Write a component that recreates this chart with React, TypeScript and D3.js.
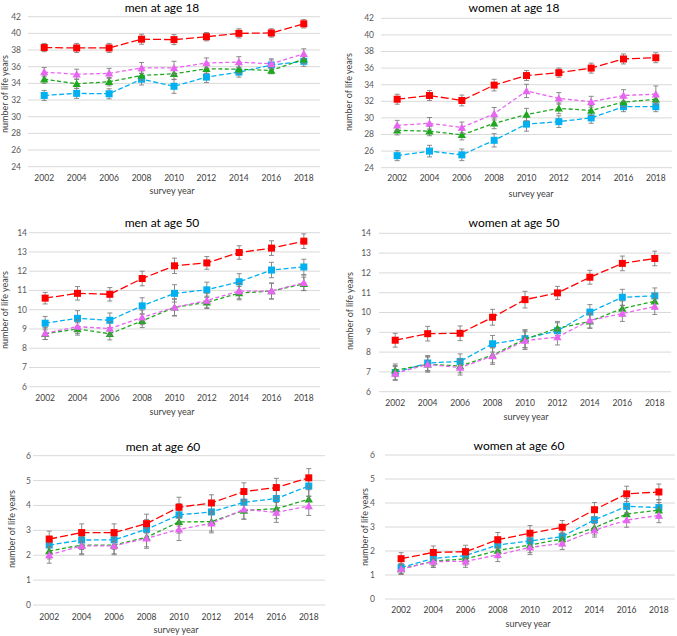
import React from "react";
import * as d3 from "d3";

const years = ["2002", "2004", "2006", "2008", "2010", "2012", "2014", "2016", "2018"];
const panelTitles = ["men at age 18", "women at age 18", "men at age 50", "women at age 50", "men at age 60", "women at age 60"];
const ticks18 = [24, 26, 28, 30, 32, 34, 36, 38, 40, 42];
const ticks50 = [6, 7, 8, 9, 10, 11, 12, 13, 14];
const ticks60 = [0, 1, 2, 3, 4, 5, 6];

// series order: red, cyan, green, magenta
const men18Red = [38.3, 38.25, 38.25, 39.3, 39.25, 39.6, 40.0, 40.05, 41.15];
const men18Cyan = [32.55, 32.8, 32.75, 34.5, 33.65, 34.75, 35.35, 36.2, 36.65];
const men18Green = [34.5, 33.95, 34.2, 34.95, 35.15, 35.75, 35.7, 35.55, 36.9];
const men18Magenta = [35.35, 35.1, 35.2, 35.85, 35.85, 36.45, 36.55, 36.35, 37.55];
const men18Err = [
  [0.5, 0.55, 0.55, 0.6, 0.6, 0.5, 0.55, 0.5, 0.5],
  [0.6, 0.6, 0.6, 0.7, 0.85, 0.65, 0.6, 0.6, 0.6],
  [0.5, 0.55, 0.5, 0.55, 0.7, 0.55, 0.55, 0.4, 0.5],
  [0.55, 0.6, 0.6, 0.65, 0.8, 0.6, 0.65, 0.6, 0.6],
];

const women18Red = [32.25, 32.7, 32.1, 33.95, 35.1, 35.45, 36.0, 37.1, 37.25];
const women18Cyan = [25.45, 26.0, 25.55, 27.3, 29.25, 29.55, 30.0, 31.35, 31.35];
const women18Green = [28.5, 28.4, 27.95, 29.35, 30.4, 31.15, 30.9, 31.9, 32.25];
const women18Magenta = [29.1, 29.35, 28.85, 30.5, 33.25, 32.35, 31.95, 32.7, 32.85];
const women18Err = [
  [0.6, 0.6, 0.65, 0.7, 0.6, 0.55, 0.6, 0.6, 0.6],
  [0.6, 0.7, 0.7, 0.8, 0.85, 0.7, 0.65, 0.6, 0.6],
  [0.55, 0.55, 0.6, 0.65, 0.75, 0.65, 0.6, 0.55, 0.6],
  [0.6, 0.7, 0.65, 0.75, 0.8, 0.7, 0.65, 0.7, 1.0],
];

const men50Red = [10.6, 10.85, 10.8, 11.62, 12.28, 12.43, 12.97, 13.2, 13.56];
const men50Cyan = [9.3, 9.55, 9.45, 10.2, 10.85, 11.03, 11.45, 12.06, 12.22];
const men50Green = [8.75, 9.0, 8.75, 9.42, 10.12, 10.38, 10.86, 10.97, 11.34];
const men50Magenta = [8.77, 9.12, 9.02, 9.6, 10.12, 10.48, 10.97, 10.97, 11.4];
const men50Err = [
  [0.3, 0.35, 0.35, 0.38, 0.4, 0.33, 0.35, 0.38, 0.38],
  [0.35, 0.4, 0.38, 0.42, 0.45, 0.4, 0.42, 0.4, 0.4],
  [0.3, 0.32, 0.32, 0.35, 0.45, 0.32, 0.35, 0.4, 0.35],
  [0.32, 0.35, 0.35, 0.38, 0.42, 0.38, 0.4, 0.42, 0.4],
];

const women50Red = [8.6, 8.93, 8.95, 9.76, 10.65, 10.99, 11.78, 12.48, 12.73];
const women50Cyan = [6.97, 7.45, 7.53, 8.42, 8.68, 9.08, 10.02, 10.77, 10.84];
const women50Green = [7.08, 7.38, 7.3, 7.84, 8.66, 9.2, 9.55, 10.2, 10.57];
const women50Magenta = [6.92, 7.38, 7.22, 7.8, 8.58, 8.76, 9.6, 9.95, 10.3];
const women50Err = [
  [0.35, 0.37, 0.37, 0.4, 0.42, 0.33, 0.35, 0.37, 0.37],
  [0.35, 0.38, 0.38, 0.42, 0.45, 0.4, 0.38, 0.4, 0.4],
  [0.32, 0.38, 0.35, 0.38, 0.45, 0.35, 0.35, 0.38, 0.38],
  [0.35, 0.38, 0.38, 0.42, 0.45, 0.4, 0.38, 0.4, 0.4],
];

const men60Red = [2.65, 2.91, 2.91, 3.27, 3.93, 4.1, 4.56, 4.72, 5.11];
const men60Cyan = [2.41, 2.61, 2.62, 3.04, 3.62, 3.74, 4.13, 4.28, 4.78];
const men60Green = [2.17, 2.41, 2.41, 2.72, 3.34, 3.35, 3.8, 3.87, 4.25];
const men60Magenta = [2.01, 2.38, 2.38, 2.68, 3.04, 3.28, 3.85, 3.72, 3.98];
const men60Err = [
  [0.32, 0.35, 0.35, 0.38, 0.4, 0.33, 0.35, 0.37, 0.37],
  [0.35, 0.38, 0.38, 0.4, 0.45, 0.4, 0.4, 0.4, 0.4],
  [0.32, 0.35, 0.35, 0.38, 0.45, 0.38, 0.35, 0.4, 0.38],
  [0.33, 0.36, 0.36, 0.4, 0.45, 0.38, 0.4, 0.4, 0.38],
];

const women60Red = [1.68, 1.94, 1.97, 2.47, 2.74, 2.99, 3.72, 4.38, 4.46];
const women60Cyan = [1.31, 1.69, 1.81, 2.25, 2.42, 2.6, 3.3, 3.86, 3.81];
const women60Green = [1.25, 1.58, 1.67, 2.02, 2.25, 2.5, 2.97, 3.54, 3.7];
const women60Magenta = [1.25, 1.56, 1.57, 1.84, 2.15, 2.32, 2.86, 3.29, 3.48];
const women60Err = [
  [0.25, 0.27, 0.27, 0.3, 0.32, 0.28, 0.3, 0.32, 0.33],
  [0.25, 0.3, 0.3, 0.32, 0.35, 0.3, 0.32, 0.33, 0.33],
  [0.22, 0.25, 0.25, 0.3, 0.32, 0.28, 0.3, 0.32, 0.32],
  [0.22, 0.25, 0.25, 0.28, 0.3, 0.26, 0.28, 0.3, 0.3],
];

const panelData = [
  [men18Red, men18Cyan, men18Green, men18Magenta],
  [women18Red, women18Cyan, women18Green, women18Magenta],
  [men50Red, men50Cyan, men50Green, men50Magenta],
  [women50Red, women50Cyan, women50Green, women50Magenta],
  [men60Red, men60Cyan, men60Green, men60Magenta],
  [women60Red, women60Cyan, women60Green, women60Magenta],
];
const panelErr = [men18Err, women18Err, men50Err, women50Err, men60Err, women60Err];
const panelTicks = [ticks18, ticks18, ticks50, ticks50, ticks60, ticks60];

const seriesStyle = [
  { color: "#FF0000", dash: "8,3", marker: "square", size: 7 },
  { color: "#00B0F0", dash: "5,2.5", marker: "square", size: 7 },
  { color: "#1FA81F", dash: "4,2.5", marker: "triangle", size: 7.5 },
  { color: "#E765F0", dash: "4,2.5", marker: "triangle", size: 7.5 },
];
const drawOrder = [1, 2, 3, 0];

// layout (pixels)
const layouts = [
  { left: 28, right: 320, yTop: 16.7, yBot: 166.7, tickRight: 21, xLabY: 178, xTitle: [172, 191], yTitle: [5, 94], title: [162, 8] },
  { left: 381, right: 672, yTop: 18.3, yBot: 167.7, tickRight: 374, xLabY: 178, xTitle: [531, 194], yTitle: [349, 92], title: [514, 8] },
  { left: 29, right: 320, yTop: 232.7, yBot: 386.7, tickRight: 27, xLabY: 398, xTitle: [172, 412], yTitle: [5, 310], title: [162, 223] },
  { left: 379, right: 671, yTop: 233.3, yBot: 391.7, tickRight: 371, xLabY: 403, xTitle: [526, 417], yTitle: [350, 311], title: [514, 223] },
  { left: 33, right: 325, yTop: 455.7, yBot: 605, tickRight: 31, xLabY: 617, xTitle: [176, 630], yTitle: [12, 529], title: [163, 447] },
  { left: 385, right: 675, yTop: 455, yBot: 599, tickRight: 375, xLabY: 610, xTitle: [528, 624], yTitle: [365, 527], title: [519, 446] },
];

const FONT = "Lato, 'Open Sans', sans-serif";

function Panel({ idx }: { idx: number }) {
  const L = layouts[idx];
  const ticks = panelTicks[idx];
  const x = d3.scalePoint<string>().domain(years).range([L.left, L.right]).padding(0.5);
  const y = d3.scaleLinear().domain([ticks[0], ticks[ticks.length - 1]]).range([L.yBot, L.yTop]);
  const data = panelData[idx];
  const errs = panelErr[idx];
  const line = d3
    .line<number>()
    .x((_, i) => x(years[i]) as number)
    .y((d) => y(d));
  const tri = d3.symbol().type(d3.symbolTriangle).size(30);

  return (
    <g>
      {ticks.map((t) => (
        <g key={t}>
          <line x1={L.left} x2={L.right} y1={y(t)} y2={y(t)} stroke="#D9D9D9" strokeWidth={1} />
          <text x={L.tickRight} y={y(t)} dy="0.35em" textAnchor="end" fontSize={8.5} fill="#595959">
            {t}
          </text>
        </g>
      ))}
      {years.map((yr) => (
        <text key={yr} x={x(yr)} y={L.xLabY} dy="0.35em" textAnchor="middle" fontSize={8.5} fill="#404040">
          {yr}
        </text>
      ))}
      <text x={L.xTitle[0]} y={L.xTitle[1]} dy="0.35em" textAnchor="middle" fontSize={9} fill="#404040">
        survey year
      </text>
      <text
        transform={`translate(${L.yTitle[0]},${L.yTitle[1]}) rotate(-90)`}
        dy="0.35em"
        textAnchor="middle"
        fontSize={9}
        fill="#404040"
      >
        number of life years
      </text>
      <text x={L.title[0]} y={L.title[1]} dy="0.35em" textAnchor="middle" fontSize={12} fill="#000">
        {panelTitles[idx]}
      </text>
      {drawOrder.map((s) => {
        const st = seriesStyle[s];
        const vals = data[s];
        return (
          <g key={s}>
            <path d={line(vals) || ""} fill="none" stroke={st.color} strokeWidth={1.3} strokeDasharray={st.dash} />
            {vals.map((v, i) => {
              const cx = x(years[i]) as number;
              const e = errs[s][i];
              return (
                <g key={i} stroke="#7F7F7F" strokeWidth={0.9}>
                  <line x1={cx} x2={cx} y1={y(v + e)} y2={y(v - e)} />
                  <line x1={cx - 2.5} x2={cx + 2.5} y1={y(v + e)} y2={y(v + e)} />
                  <line x1={cx - 2.5} x2={cx + 2.5} y1={y(v - e)} y2={y(v - e)} />
                </g>
              );
            })}
            {vals.map((v, i) => {
              const cx = x(years[i]) as number;
              const cy = y(v);
              if (st.marker === "square") {
                return (
                  <rect key={i} x={cx - st.size / 2} y={cy - st.size / 2} width={st.size} height={st.size} fill={st.color} />
                );
              }
              return <path key={i} d={tri() || ""} transform={`translate(${cx},${cy + 0.8})`} fill={st.color} />;
            })}
          </g>
        );
      })}
    </g>
  );
}

export default function App() {
  return (
    <svg
      width={677}
      height={636}
      style={{ position: "absolute", left: 0, top: 0, background: "#fff" }}
      fontFamily={FONT}
    >
      <rect width={677} height={636} fill="#fff" />
      {[0, 1, 2, 3, 4, 5].map((i) => (
        <Panel key={i} idx={i} />
      ))}
    </svg>
  );
}
